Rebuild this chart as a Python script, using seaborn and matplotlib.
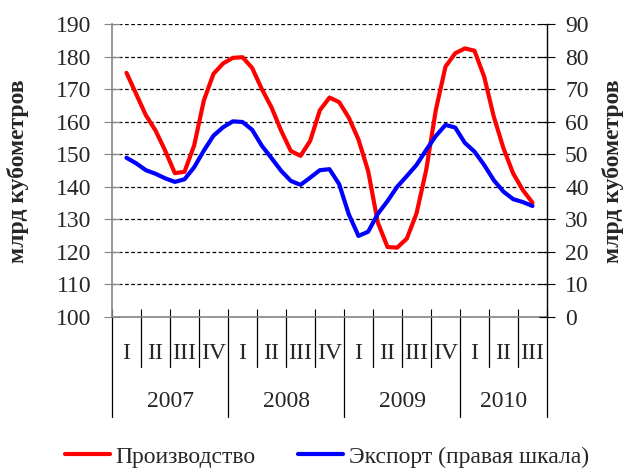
import seaborn as sns
import matplotlib.pyplot as plt
from matplotlib.lines import Line2D
import pandas as pd
import numpy as np

sns.set_style('white')
plt.rcParams['font.family'] = ['Liberation Serif', 'DejaVu Serif']

# monthly data, Feb 2007 .. Aug 2010
months = pd.date_range('2007-02-01', periods=43, freq='MS')
production = [175, 168.5, 162, 157.3, 151.1, 144.2, 144.6, 152.7, 166.5, 174.7,
              177.9, 179.6, 179.8, 176.5, 170, 164.4, 157.2, 151, 149.5, 154.1,
              163.5, 167.4, 166, 161.2, 154.5, 144.8, 129, 121.5, 121.3, 124.1,
              131.8, 145.1, 163.6, 176.9, 181, 182.5, 181.8, 173.8, 161.5, 151.8,
              144.1, 139, 135.1]
export = [48.9, 47.2, 45.1, 44, 42.6, 41.5, 42.3, 46, 51.1, 55.7,
          58.3, 60.1, 59.9, 57.5, 52.6, 48.8, 44.9, 41.8, 40.6, 42.8,
          45.1, 45.4, 40.8, 31.5, 24.9, 26.2, 31.7, 35.6, 40, 43.3,
          46.7, 51.3, 55.6, 59, 58.2, 53.5, 50.8, 46.7, 42, 38.5,
          36.2, 35.3, 34.1]
quarters = ['I', 'II', 'III', 'IV'] * 3 + ['I', 'II', 'III']
years = ['2007', '2008', '2009', '2010']
labels = ['Производство', 'Экспорт (правая шкала)']

df = pd.DataFrame({'month': months, 'prod': production, 'exp': export})
# position on a quarter scale: centre of quarter i is i + 0.5
df['x'] = (df['month'].dt.year - 2007) * 4 + (df['month'].dt.month - 0.5) / 3

fs = 17
gray = '#868686'
red = '#ff0000'
blue = '#0000ff'

fig = plt.figure(figsize=(6.27, 4.68), dpi=100)
ax = fig.add_axes([112 / 627, 1 - 317 / 468, 435 / 627, 293 / 468])
ax2 = ax.twinx()

sns.lineplot(data=df, x='x', y='prod', ax=ax, color=red, lw=3, legend=False)
sns.lineplot(data=df, x='x', y='exp', ax=ax2, color=blue, lw=3, legend=False)

nq = len(quarters)
ax.set_xlim(0, nq)
ax.set_ylim(100, 190)
ax2.set_ylim(0, 90)
ax.set_yticks(range(100, 191, 10))
ax2.set_yticks(range(0, 91, 10))
ax.set_xlabel('')
ax.set_ylabel('')
ax2.set_ylabel('')

ax.grid(axis='y', ls=(0, (3, 2)), color='black', lw=0.9)
ax.grid(axis='x', visible=False)
ax2.grid(False)

for s in ['top', 'right']:
    ax.spines[s].set_visible(False)
for s in ['top', 'left', 'bottom']:
    ax2.spines[s].set_visible(False)
ax.spines['left'].set_color(gray)
ax.spines['bottom'].set_color(gray)
ax.spines['left'].set_linewidth(1.2)
ax.spines['bottom'].set_linewidth(1.2)
ax2.spines['right'].set_color('black')
ax2.spines['right'].set_linewidth(1.0)

ax.tick_params(axis='y', direction='inout', length=12, color=gray, labelsize=fs, pad=9, left=True)
ax2.tick_params(axis='y', direction='inout', length=12, color='black', labelsize=fs, pad=7, right=True)

ax.set_xticks(range(nq + 1))
ax.tick_params(axis='x', direction='in', length=6, color='black', labelbottom=False, bottom=True)

# category separators under the axis
tr = ax.get_xaxis_transform()
for i in range(nq + 1):
    depth = 0.341 if (i % 4 == 0 or i == nq) else 0.171
    ax.plot([i, i], [0, -depth], transform=tr, clip_on=False, color='black', lw=0.9)
for i, q in enumerate(quarters):
    ax.text(i + 0.5, -0.123, q, transform=tr, ha='center', va='center', fontsize=fs)
for j, y in enumerate(years):
    start = j * 4
    end = min(start + 4, nq)
    ax.text((start + end) / 2, -0.29, y, transform=tr, ha='center', va='center', fontsize=fs)

fig.text(18 / 627, 1 - 171 / 468, 'млрд кубометров', rotation=90, ha='center', va='center',
         fontsize=fs, fontweight='bold')
fig.text(613 / 627, 1 - 171 / 468, 'млрд кубометров', rotation=90, ha='center', va='center',
         fontsize=fs, fontweight='bold')

handles = [Line2D([], [], color=red, lw=3), Line2D([], [], color=blue, lw=3)]
fig.legend(handles, labels, loc='center', bbox_to_anchor=(327 / 627, 1 - 457 / 468), ncol=2,
           frameon=False, fontsize=fs, handlelength=1.9, handletextpad=0.25, columnspacing=1.8)

fig.savefig('out.png', dpi=100)
